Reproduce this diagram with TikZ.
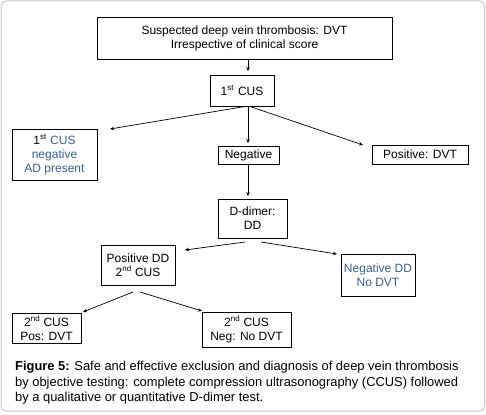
\documentclass[tikz,border=0pt]{standalone}
\usepackage{fontspec}
\setmainfont{Liberation Sans}
\usetikzlibrary{arrows.meta}
\definecolor{txtblue}{RGB}{55,96,146}
\definecolor{framegray}{RGB}{200,200,200}
\tikzset{
  box/.style={draw=black, line width=0.9pt, inner sep=0pt, align=center,
    font=\fontsize{12}{14}\selectfont},
  arr/.style={line width=0.7pt, -{Stealth[length=4pt,width=3.5pt]}},
}
\begin{document}
\begin{tikzpicture}[x=1pt,y=-1pt]
\useasboundingbox (0,0) rectangle (486,414);
\draw[framegray, line width=1pt, rounded corners=5pt] (1,1) rectangle (484.5,411);

\node[box, minimum width=295, minimum height=42] (top) at (244.5,38)
  {Suspected deep vein thrombosis: DVT\\Irrespective of clinical score};
\node[box, minimum width=64, minimum height=31] (cus1) at (242,90.5)
  {1\textsuperscript{st}\,\,CUS};
\node[box, minimum width=85, minimum height=51] (left) at (54.5,154.5)
  {1\textsuperscript{st} \textcolor{txtblue}{CUS}\\\textcolor{txtblue}{negative}\\\textcolor{txtblue}{AD present}};
\node[box, minimum width=61, minimum height=18] (neg) at (248.5,155) {Negative};
\node[box, minimum width=96, minimum height=19] (pos) at (420,154.5) {Positive: DVT};
\node[box, minimum width=69, minimum height=39] (dd) at (252.5,218.5) {D-dimer:\\DD};
\node[box, minimum width=74, minimum height=40] (posdd) at (138,265)
  {Positive DD\\2\textsuperscript{nd} CUS};
\node[box, minimum width=74, minimum height=42, text=txtblue] (negdd) at (378,275)
  {Negative DD\\No DVT};
\node[box, minimum width=69, minimum height=30] (pos2) at (46.5,328)
  {2\textsuperscript{nd} CUS\\Pos: DVT};
\node[box, minimum width=89, minimum height=35] (neg2) at (246.5,329.5)
  {2\textsuperscript{nd} CUS\\Neg: No DVT};

\node[anchor=north west, inner sep=0pt, align=left,
  font=\fontsize{12.9}{15.5}\selectfont] (cap) at (15,361)
  {\textbf{Figure 5:} Safe and effective exclusion and diagnosis of deep vein thrombosis\\
   by objective testing: complete compression ultrasonography (CCUS) followed\\
   by a qualitative or quantitative D-dimer test.};

% connector end points
\coordinate (t1) at (248,59.5);
\coordinate (t2) at (248,71);
\coordinate (c1) at (245,106.5);
\coordinate (c2) at (248,106.5);
\coordinate (c3) at (250,106.5);
\coordinate (la) at (110,129);
\coordinate (na) at (248,143);
\coordinate (pa) at (363,145);
\coordinate (n1) at (248,164.5);
\coordinate (da) at (248,196);
\coordinate (d1) at (245,242);
\coordinate (d2) at (261,242);
\coordinate (pda) at (185,250);
\coordinate (nda) at (337,254);
\coordinate (p1) at (133,292);
\coordinate (p2) at (140,292);
\coordinate (p2a) at (83,312);
\coordinate (n2a) at (202,311);

\draw[arr] (t1) -- (t2);
\draw[arr] (c1) -- (la);
\draw[arr] (c2) -- (na);
\draw[arr] (c3) -- (pa);
\draw[arr] (n1) -- (da);
\draw[arr] (d1) -- (pda);
\draw[arr] (d2) -- (nda);
\draw[arr] (p1) -- (p2a);
\draw[arr] (p2) -- (n2a);
\end{tikzpicture}
\end{document}
